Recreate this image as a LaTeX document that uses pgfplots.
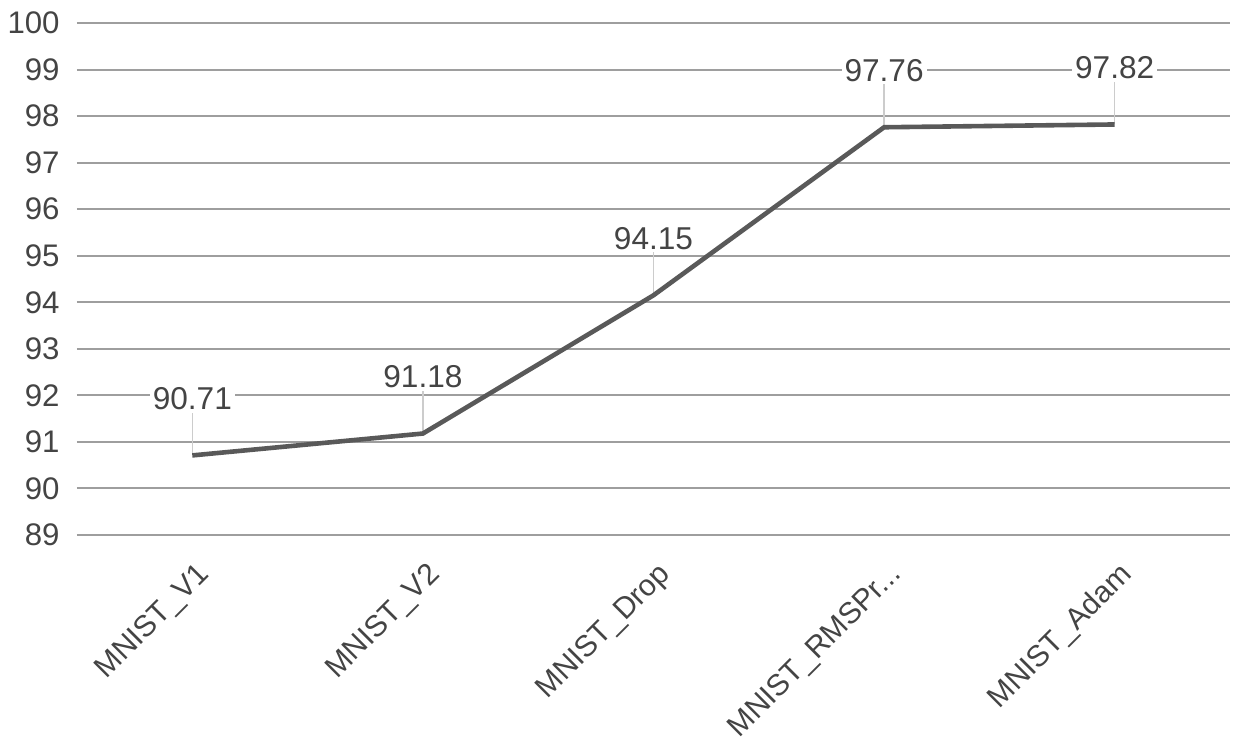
\documentclass[border=0pt]{standalone}
\usepackage{pgfplots}
\pgfplotsset{compat=1.18}
\usepackage{fontspec}
\setmainfont{Liberation Sans}
\definecolor{txt}{HTML}{444444}
\definecolor{gridc}{HTML}{9E9E9E}
\definecolor{linec}{HTML}{595959}
\definecolor{leader}{HTML}{CCCCCC}
\begin{document}
\begin{tikzpicture}
\begin{axis}[
  scale only axis,
  width=576.5pt, height=256pt,
  xmin=-0.5, xmax=4.5,
  ymin=89, ymax=100,
  ytick={89,90,91,92,93,94,95,96,97,98,99,100},
  xtick={0,1,2,3,4},
  xticklabels={MNIST\_V1,MNIST\_V2,MNIST\_Drop,{MNIST\_RMSPr{.}{.}{.}},MNIST\_Adam},
  axis line style={draw=none},
  major tick length=0pt,
  ymajorgrids,
  grid style={draw=gridc, line width=1pt},
  /pgf/number format/assume math mode=true,
  yticklabel style={font=\fontsize{15.6}{18}\selectfont, text=txt, inner sep=0pt, xshift=-8.5pt},
  xticklabel style={font=\fontsize{15}{18}\selectfont, text=txt, inner sep=0pt, yshift=-17.5pt, xshift=6.5pt, rotate=45, anchor=east},
  clip=false,
]
\addplot[draw=none, forget plot, error bars/.cd, y dir=plus, y fixed=0.92, error mark=none,
  error bar style={draw=leader, line width=0.7pt}]
  coordinates {(0,90.71) (1,91.18) (2,94.15) (3,97.76) (4,97.82)};
\addplot[linec, line width=2.3pt, mark=none,
  nodes near coords,
  point meta=explicit symbolic,
  every node near coord/.style={anchor=south, yshift=21.5pt, inner sep=0pt,
    font=\fontsize{15.8}{18}\selectfont, text=txt, fill=white, inner xsep=1.5pt}]
  coordinates {(0,90.71)[90.71] (1,91.18)[91.18] (2,94.15)[94.15] (3,97.76)[97.76] (4,97.82)[97.82]};
\end{axis}
\pgfresetboundingbox
\path[use as bounding box] (-38.5pt,-101.5pt) rectangle (581.5pt,267.5pt);
\end{tikzpicture}
\end{document}
